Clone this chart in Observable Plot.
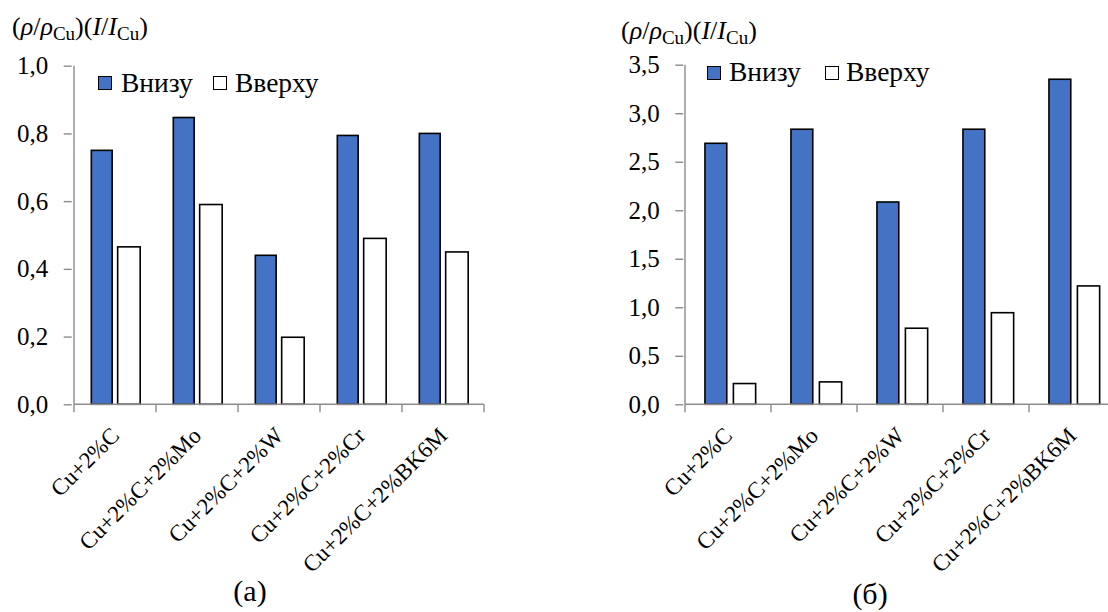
<!DOCTYPE html>
<html><head><meta charset="utf-8">
<script src="https://cdn.jsdelivr.net/npm/d3@7"></script>
<script src="https://cdn.jsdelivr.net/npm/@observablehq/plot@0.6"></script>
<style>
html,body{margin:0;padding:0;background:#fff;overflow:hidden;}
#wrap{position:relative;width:1108px;height:612px;overflow:hidden;font-family:"Liberation Serif","Times New Roman",serif;color:#000;}
.abs{position:absolute;white-space:nowrap;line-height:1;}
.title{font-size:26px;}
.title i{font-style:italic;}
.title sub{font-size:19px;vertical-align:-5px;line-height:0;}
.leg{font-size:27.5px;}
.sw{position:absolute;width:12px;height:12px;border:1.5px solid #000;box-sizing:content-box;}
.cap{font-size:30px;transform:translateX(-50%);}
svg{position:absolute;top:0;}
</style></head><body><div id="wrap"></div>
<script>
const categories = ["Cu+2%C", "Cu+2%C+2%Mo", "Cu+2%C+2%W", "Cu+2%C+2%Cr", "Cu+2%C+2%BK6M"];
const seriesNames = ["Внизу", "Вверху"];
const seriesColors = ["#4472C4", "#ffffff"];
// panel (а)
const bottomA = [0.75, 0.847, 0.44, 0.794, 0.80];
const topA = [0.465, 0.59, 0.198, 0.49, 0.45];
const ticksA = [0, 0.2, 0.4, 0.6, 0.8, 1.0];
// panel (б)
const bottomB = [2.69, 2.835, 2.085, 2.835, 3.35];
const topB = [0.214, 0.231, 0.784, 0.944, 1.22];
const ticksB = [0, 0.5, 1.0, 1.5, 2.0, 2.5, 3.0, 3.5];
const captions = ["(а)", "(б)"];

const wrap = document.getElementById("wrap");
const fmt = d => d.toFixed(1).replace(".", ",");

function axisFrame(index, scales, values, dims) {
  const {x, y} = scales;
  const dom = x.domain();
  const xs = dom.map(d => x(d));
  const xEnd = x(dom[dom.length - 1]) + x.bandwidth();
  const yd = y.domain();
  const g = d3.create("svg:g").attr("stroke", "#8c8c8c").attr("stroke-width", 1.4).attr("fill", "none");
  g.append("line").attr("x1", xs[0]).attr("x2", xs[0]).attr("y1", y(yd[0])).attr("y2", y(yd[1]));
  g.append("line").attr("x1", xs[0]).attr("x2", xEnd).attr("y1", y(0)).attr("y2", y(0));
  for (const xv of [...xs, xEnd]) {
    g.append("line").attr("x1", xv).attr("x2", xv).attr("y1", y(0)).attr("y2", y(0) + 8);
  }
  return g.node();
}

function panel(bottom, top, ticks, o) {
  const rows = seriesNames.map((s, si) => categories.map((c, i) => ({category: c, series: s, value: (si === 0 ? bottom : top)[i]})));
  const step = (o.width - o.marginLeft - o.marginRight) / categories.length;
  const bars = rows.map((data, si) => Plot.barY(data, {
    x: "category", y: "value", fill: seriesColors[si], stroke: "#000", strokeWidth: 1.6,
    insetLeft: o.frac[si][0] * step, insetRight: (1 - o.frac[si][1]) * step
  }));
  const svg = Plot.plot({
    width: o.width, height: o.height,
    marginLeft: o.marginLeft, marginRight: o.marginRight, marginTop: o.marginTop, marginBottom: o.marginBottom,
    style: {fontFamily: "Liberation Serif, Times New Roman, serif", background: "transparent", overflow: "visible", color: "#000"},
    x: {domain: categories, padding: 0, axis: null},
    y: {domain: [0, ticks[ticks.length - 1]], axis: null},
    marks: [
      ...bars,
      axisFrame,
      Plot.axisY({ticks, tickFormat: fmt, tickSize: 8, tickPadding: 16, stroke: "#8c8c8c", strokeWidth: 1.4, fill: "#000", fontSize: 25, label: null}),
      Plot.axisX({tickRotate: -45, tickSize: 0, tickPadding: 27, fontSize: 23, fill: "#000", label: null})
    ]
  });
  svg.style.left = o.left + "px";
  wrap.appendChild(svg);
}

panel(bottomA, topA, ticksA, {left: 0, width: 540, height: 540, marginLeft: 71.7, marginRight: 54, marginTop: 65.7, marginBottom: 135.7,
  frac: [[0.209, 0.471], [0.527, 0.809]]});
panel(bottomB, topB, ticksB, {left: 560, width: 560, height: 540, marginLeft: 123.3, marginRight: 3, marginTop: 64.7, marginBottom: 135.7,
  frac: [[0.23, 0.49], [0.558, 0.823]]});

function addText(cls, html, left, top) {
  const d = document.createElement("div");
  d.className = "abs " + cls;
  d.innerHTML = html;
  d.style.left = left + "px";
  d.style.top = top + "px";
  wrap.appendChild(d);
}
const titleHtml = "(<i>ρ</i>/<i>ρ</i><sub>Cu</sub>)(<i>I</i>/<i>I</i><sub>Cu</sub>)";
addText("title", titleHtml, 12, 14);
addText("title", titleHtml, 621, 17.5);

function legend(x0, x1, sqTop, textTop, sqLeft) {
  seriesNames.forEach((s, i) => {
    const sw = document.createElement("div");
    sw.className = "sw";
    sw.style.left = sqLeft[i] + "px";
    sw.style.top = sqTop + "px";
    sw.style.background = seriesColors[i];
    wrap.appendChild(sw);
    addText("leg", s, i === 0 ? x0 : x1, textTop);
  });
}
legend(121, 235, 76, 68.7, [98, 212.5]);
legend(729, 846, 66, 58, [707, 824.5]);

addText("cap", captions[0], 250, 576);
addText("cap", captions[1], 870, 579);
</script></body></html>
